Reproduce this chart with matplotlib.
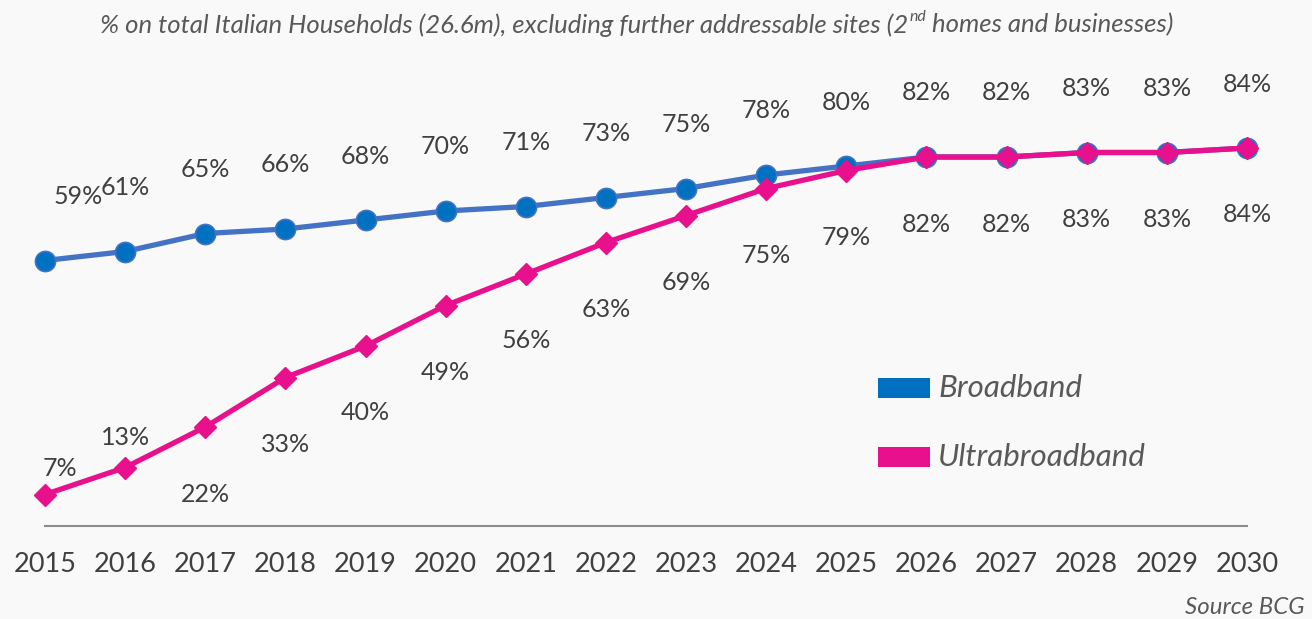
import matplotlib
matplotlib.use("Agg")
import matplotlib.pyplot as plt
from matplotlib.patches import Rectangle

years = list(range(2015, 2031))
broadband = [59, 61, 65, 66, 68, 70, 71, 73, 75, 78, 80, 82, 82, 83, 83, 84]
ultrabroadband = [7, 13, 22, 33, 40, 49, 56, 63, 69, 75, 79, 82, 82, 83, 83, 84]
series_names = ["Broadband", "Ultrabroadband"]
title_parts = ["% on total Italian Households (26.6m), excluding further addressable sites (2", "nd", " homes and businesses)"]
source_text = "Source BCG"

FONT = "Lato"
BG = "#f9f9f9"
BLUE = "#0070C0"
BLUE_LINE = "#4472C4"
MAGENTA = "#E8108C"
TXT = "#404040"
GRAY = "#595959"

W, H = 1312, 619
fig = plt.figure(figsize=(W / 100, H / 100), dpi=100, facecolor=BG)

def fx(px):
    return px / W

def fy(py):
    return 1 - py / H

ax = fig.add_axes([fx(45), fy(526), fx(1247) - fx(45), (526 - 76) / H])
ax.set_facecolor(BG)
ax.set_xlim(2015, 2030)
ax.set_ylim(0, 100)
for s in ax.spines.values():
    s.set_visible(False)
ax.set_yticks([])
ax.set_xticks([])
ax.plot([2015, 2030], [0, 0], color="#8c8c8c", lw=1.5, clip_on=False, zorder=1)

ax.plot(years, broadband, color=BLUE_LINE, lw=3.8, marker="o", markersize=14.5,
        markerfacecolor=BLUE, markeredgecolor=BLUE_LINE, markeredgewidth=1.2,
        clip_on=False, zorder=3)
ax.plot(years, ultrabroadband, color=MAGENTA, lw=3.8, marker="D", markersize=11,
        markerfacecolor=MAGENTA, markeredgecolor=MAGENTA, clip_on=False, zorder=4)

lab_kw = dict(textcoords="offset pixels", ha="center", va="center",
              fontsize=18, color=TXT, family=FONT, annotation_clip=False)
for i, (yr, v) in enumerate(zip(years, broadband)):
    dx = 33 if i == 0 else 0
    ax.annotate(f"{v}%", (yr, v), xytext=(dx, 64), **lab_kw)
for i, (yr, v) in enumerate(zip(years, ultrabroadband)):
    if i == 0:
        off = (15, 26)
    elif i == 1:
        off = (0, 30)
    else:
        off = (0, -67)
    ax.annotate(f"{v}%", (yr, v), xytext=off, **lab_kw)

for yr in years:
    ax.annotate(str(yr), (yr, 0), xytext=(0, -39), textcoords="offset pixels",
                ha="center", va="center", fontsize=19.5, color=TXT, family=FONT,
                annotation_clip=False)

# legend
for (name, col, yc) in [(series_names[0], BLUE, 388), (series_names[1], MAGENTA, 457)]:
    fig.patches.append(Rectangle((fx(878), fy(yc + 10)), fx(52), 20 / H,
                                 transform=fig.transFigure, facecolor=col, edgecolor="none"))
    fig.text(fx(938), fy(yc), name, ha="left", va="center", fontsize=22.5,
             style="italic", color=GRAY, family=FONT)

# title with superscript, sized to span the reference width
renderer = fig.canvas.get_renderer()
x0, x_end = 100, 1175

def draw_title(tsize):
    t1 = fig.text(fx(x0), fy(25), title_parts[0], ha="left", va="center", fontsize=tsize,
                  style="italic", color=GRAY, family=FONT)
    x1 = x0 + t1.get_window_extent(renderer).width + 1
    t2 = fig.text(fx(x1), fy(17), title_parts[1], ha="left", va="center", fontsize=tsize * 0.62,
                  style="italic", color=GRAY, family=FONT)
    x2 = x1 + t2.get_window_extent(renderer).width
    t3 = fig.text(fx(x2), fy(25), title_parts[2], ha="left", va="center", fontsize=tsize,
                  style="italic", color=GRAY, family=FONT)
    return [t1, t2, t3], x2 + t3.get_window_extent(renderer).width

tsize = 18
texts, xe = draw_title(tsize)
for t in texts:
    t.remove()
tsize = tsize * (x_end - x0) / (xe - x0)
draw_title(tsize)

fig.text(fx(1305), fy(607), source_text, ha="right", va="center", fontsize=17.3,
         style="italic", color=GRAY, family=FONT)

fig.savefig("out.png", dpi=100, facecolor=BG)
